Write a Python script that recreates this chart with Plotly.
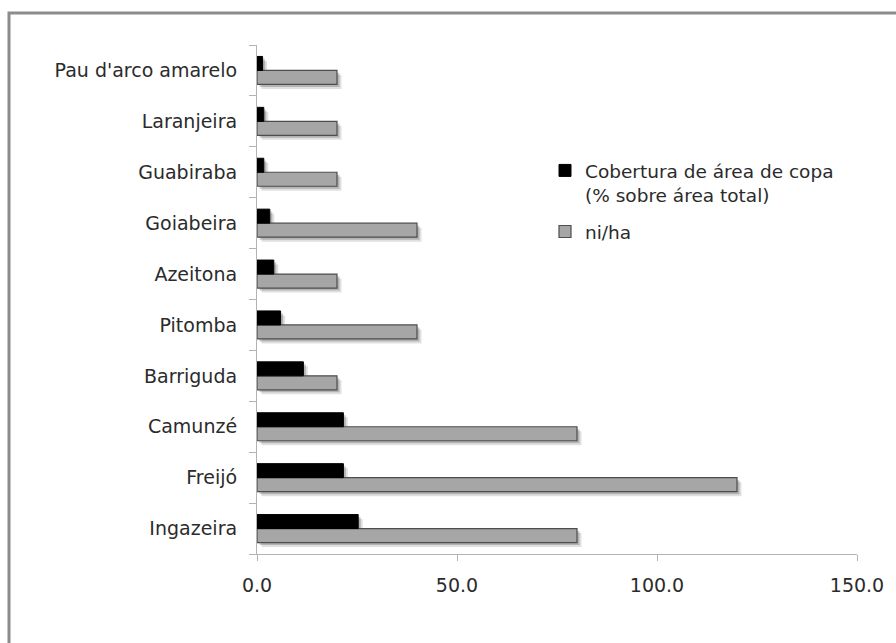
import plotly.graph_objects as go

# Species (bottom to top) and the two measured series
especies = ["Ingazeira", "Freijó", "Camunzé", "Barriguda", "Pitomba",
            "Azeitona", "Goiabeira", "Guabiraba", "Laranjeira", "Pau d'arco amarelo"]
cobertura_copa = [25.3, 21.6, 21.6, 11.6, 5.9, 4.2, 3.2, 1.7, 1.7, 1.4]
ni_ha = [80, 120, 80, 20, 40, 20, 40, 20, 20, 20]

nome_cobertura = "Cobertura de área de copa<br>(% sobre área total)"
nome_ni_ha = "ni/ha"
x_ticks = [0, 50, 100, 150]

W, H = 896, 643
M_L, M_R, M_T, M_B = 257, 39, 45, 89
plot_w = W - M_L - M_R
plot_h = H - M_T - M_B
x_max = 150
n_cat = len(especies)

# drop shadow offsets (pixels), converted to data units of the hidden axes
def shift(px):
    return px * x_max / plot_w, px * n_cat / plot_h

dx_far, dy_far = shift(4.5)
dx_near, dy_near = shift(2.5)

font_family = "DejaVu Sans"
text_color = "#2b2b2b"


def shadow_pair(xa, ya, alpha):
    out = []
    for vals in (ni_ha, cobertura_copa):
        out.append(go.Bar(y=especies, x=vals, orientation="h", xaxis=xa, yaxis=ya,
                          marker=dict(color=f"rgba(0,0,0,{alpha})", line=dict(width=0)),
                          showlegend=False, hoverinfo="skip"))
    return out


fig = go.Figure()

# soft shadow built from two offset layers beneath the real bars
for tr in shadow_pair("x", "y", 0.12):
    fig.add_trace(tr)
for tr in shadow_pair("x2", "y2", 0.2):
    fig.add_trace(tr)

# visible bars on the top overlaid axes
fig.add_trace(go.Bar(y=especies, x=ni_ha, orientation="h", name=nome_ni_ha,
                     xaxis="x3", yaxis="y3", legendgroup="g2", legendrank=2,
                     marker=dict(color="#a6a6a6", line=dict(color="#4d4d4d", width=1.2))))
fig.add_trace(go.Bar(y=especies, x=cobertura_copa, orientation="h", name=nome_cobertura,
                     xaxis="x3", yaxis="y3", legendgroup="g1", legendrank=1,
                     marker=dict(color="#000000", line=dict(color="#000000", width=1))))

hidden_cat = dict(type="category", categoryorder="array", categoryarray=especies,
                  visible=False, showgrid=False)

fig.update_layout(
    width=W, height=H,
    margin=dict(l=M_L, r=M_R, t=M_T, b=M_B),
    paper_bgcolor="white", plot_bgcolor="white",
    barmode="group", bargap=0.45, bargroupgap=0,
    font=dict(family=font_family, size=19, color=text_color),
    xaxis=dict(range=[-dx_far, x_max - dx_far], visible=False, showgrid=False),
    yaxis=dict(range=[-0.5 + dy_far, n_cat - 0.5 + dy_far], **hidden_cat),
    xaxis2=dict(overlaying="x", anchor="y2", range=[-dx_near, x_max - dx_near],
                visible=False, showgrid=False),
    yaxis2=dict(overlaying="y", anchor="x2",
                range=[-0.5 + dy_near, n_cat - 0.5 + dy_near], **hidden_cat),
    xaxis3=dict(overlaying="x", anchor="y3", side="bottom",
                range=[0, x_max], tickvals=x_ticks,
                ticktext=[f"{v:.1f}" for v in x_ticks],
                showgrid=False, zeroline=False,
                showline=True, linecolor="#b3b3b3", linewidth=1.2,
                ticks="outside", ticklen=6, tickcolor="#b3b3b3", tickwidth=1.2,
                tickfont=dict(size=19, color=text_color), ticklabelstandoff=8),
    yaxis3=dict(overlaying="y", anchor="x3", side="left",
                type="category", categoryorder="array", categoryarray=especies,
                range=[-0.5, n_cat - 0.5], tickson="boundaries",
                showgrid=False, zeroline=False,
                showline=True, linecolor="#b3b3b3", linewidth=1.2,
                ticks="outside", ticklen=7, tickcolor="#b3b3b3", tickwidth=1.2,
                tickfont=dict(size=19, color=text_color), ticklabelstandoff=15),
    legend=dict(x=0.48, y=0.79, xanchor="left", yanchor="top", valign="top",
                traceorder="grouped", tracegroupgap=10,
                bgcolor="rgba(0,0,0,0)",
                font=dict(size=18.5, color=text_color)),
    shapes=[dict(type="rect", xref="paper", yref="paper",
                 x0=(9 - M_L) / plot_w, x1=(W + 20 - M_L) / plot_w,
                 y0=-(H + 20 - M_T - plot_h) / plot_h, y1=(H - M_B - 13) / plot_h,
                 line=dict(color="#8c8c8c", width=3), fillcolor="rgba(0,0,0,0)",
                 layer="below")],
)

fig.write_html("out.html")
